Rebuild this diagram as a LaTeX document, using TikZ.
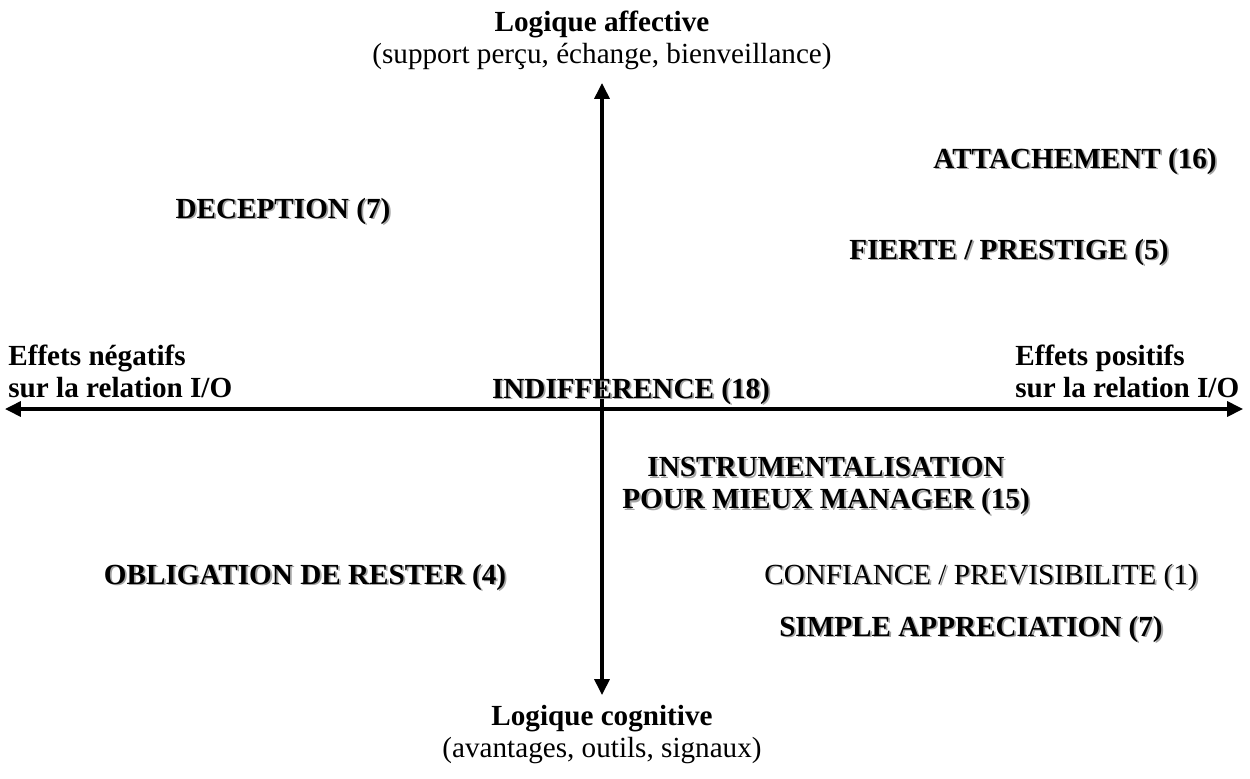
\documentclass[tikz,border=0pt]{standalone}
\usepackage{xcolor}
\usepackage{fontspec}
\setmainfont{Liberation Serif}
\usepackage{tikz}
\usetikzlibrary{arrows.meta, positioning}
\definecolor{ombregris}{RGB}{165,165,165}
\newcommand{\ombre}[1]{\rlap{\hspace{1pt}\raisebox{-1pt}{\textcolor{ombregris}{#1}}}#1}

\begin{document}
\begin{tikzpicture}[x=0.02cm, y=-0.02cm,
    pole/.style={inner sep=0pt, align=center, font=\fontsize{16.6}{18.2}\selectfont},
    cote/.style={inner sep=0pt, align=left, font=\fontsize{16.6}{18.2}\selectfont\bfseries},
    etiquette/.style={inner sep=0pt, align=center, font=\fontsize{16.6}{18.2}\selectfont\bfseries},
    simple/.style={inner sep=0pt, align=center, font=\fontsize{16.6}{18.2}\selectfont},
    axe/.style={line width=1.9pt, {Triangle[length=9pt,width=8.5pt]}-{Triangle[length=9pt,width=8.5pt]}}]
\useasboundingbox (0,0) rectangle (1250,778);

% axes
\coordinate (gauche) at (5,409);
\coordinate (droite) at (1243,409);
\coordinate (haut)   at (602,83);
\coordinate (bas)    at (602,695);
\draw [axe] (gauche) -- (droite);
\draw [axe] (haut) -- (bas);

% poles
\node (affectif)  [pole] at (602,40)  {\textbf{Logique affective}\\(support perçu, échange, bienveillance)};
\node (cognitif)  [pole] at (602,735) {\textbf{Logique cognitive}\\(avantages, outils, signaux)};
\node (negatif)   [cote, anchor=west] at (8,371)    {Effets négatifs\\sur la relation I/O};
\node (positif)   [cote, anchor=west] at (1015,371) {Effets positifs\\sur la relation I/O};

% categories
\node (attach)    [etiquette] at (1075,162) {\ombre{ATTACHEMENT (16)}};
\node (decep)     [etiquette] at (283,212)  {\ombre{DECEPTION (7)}};
\node (fierte)    [etiquette] at (1009,253) {\ombre{FIERTE / PRESTIGE (5)}};
\node (indiff)    [etiquette] at (631,392)  {\ombre{INDIFFERENCE (18)}};
\node (instru)    [etiquette] at (826,487)  {\ombre{INSTRUMENTALISATION}\\\ombre{POUR MIEUX MANAGER (15)}};
\node (oblig)     [etiquette] at (305,578)  {\ombre{OBLIGATION DE RESTER (4)}};
\node (confiance) [simple]    at (981,578)  {\ombre{CONFIANCE / PREVISIBILITE (1)}};
\node (apprec)    [etiquette] at (971,630)  {\ombre{SIMPLE APPRECIATION (7)}};
\end{tikzpicture}
\end{document}
